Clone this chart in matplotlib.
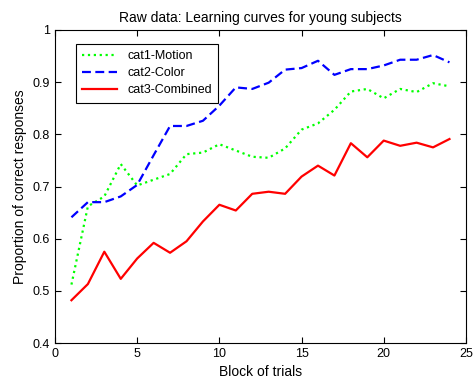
import numpy as np
import matplotlib
matplotlib.use("Agg")
import matplotlib.pyplot as plt

plt.rcParams["font.family"] = ["Liberation Sans", "DejaVu Sans"]

# Bloques de ensayos y proporción de respuestas correctas por categoría
bloques = np.arange(1, 25)
cat1_motion = [0.512, 0.662, 0.681, 0.743, 0.702, 0.713, 0.724, 0.762, 0.765, 0.781,
               0.769, 0.757, 0.755, 0.773, 0.809, 0.821, 0.847, 0.882, 0.887, 0.869,
               0.887, 0.881, 0.898, 0.892]
cat2_color = [0.641, 0.670, 0.670, 0.681, 0.703, 0.760, 0.816, 0.816, 0.826, 0.855,
              0.890, 0.887, 0.899, 0.924, 0.927, 0.941, 0.914, 0.925, 0.925, 0.932,
              0.943, 0.943, 0.952, 0.938]
cat3_combined = [0.482, 0.513, 0.575, 0.523, 0.562, 0.592, 0.573, 0.595, 0.633, 0.665,
                 0.654, 0.686, 0.690, 0.686, 0.719, 0.740, 0.721, 0.783, 0.756, 0.788,
                 0.778, 0.784, 0.775, 0.791]

fig = plt.figure(figsize=(4.73, 3.83), dpi=100)
ax = fig.add_axes([0.1163, 0.1044, 0.8687, 0.8173])

ax.plot(bloques, cat1_motion, color="#00ff00", linestyle=":", linewidth=1.6, label="cat1-Motion")
ax.plot(bloques, cat2_color, color="#0000ff", linestyle=(0, (4, 2)), linewidth=1.6, label="cat2-Color")
ax.plot(bloques, cat3_combined, color="#ff0000", linestyle="-", linewidth=1.6, label="cat3-Combined")

ax.set_xlim(0, 25)
ax.set_ylim(0.4, 1.0)
ax.set_xticks([0, 5, 10, 15, 20, 25])
ax.set_yticks([0.4, 0.5, 0.6, 0.7, 0.8, 0.9, 1.0])
ax.set_yticklabels(["0.4", "0.5", "0.6", "0.7", "0.8", "0.9", "1"])
ax.tick_params(direction="in", top=True, right=True, labelsize=9, length=4)

ax.set_title("Raw data: Learning curves for young subjects", fontsize=10)
ax.set_xlabel("Block of trials", fontsize=10)
ax.set_ylabel("Proportion of correct responses", fontsize=10)

leg = ax.legend(loc="upper left", bbox_to_anchor=(0.051, 0.955), borderaxespad=0,
                fontsize=9, fancybox=False, framealpha=1, edgecolor="black",
                handlelength=2.8, borderpad=0.5, labelspacing=0.4)
leg.get_frame().set_linewidth(0.8)

fig.savefig("out.png", dpi=100)
